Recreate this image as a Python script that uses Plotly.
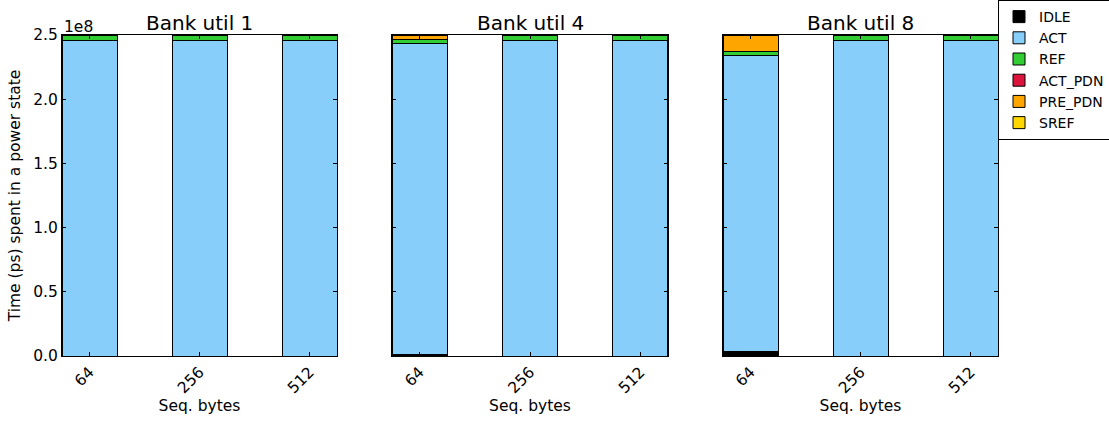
import plotly.graph_objects as go
from plotly.subplots import make_subplots

# Sequential access size categories
seq_bytes = ["64", "256", "512"]
panel_titles = ["Bank util 1", "Bank util 4", "Bank util 8"]

# Power-state residency (ps), one list per state, one row per bank utilisation
states = ["IDLE", "ACT", "REF", "ACT_PDN", "PRE_PDN", "SREF"]
idle = [[0.0, 0.0, 0.0], [1.0e6, 0.0, 0.0], [3.5e6, 0.0, 0.0]]
act = [[246.1e6, 246.1e6, 246.1e6], [242.1e6, 246.1e6, 246.1e6], [230.6e6, 246.1e6, 246.1e6]]
ref = [[3.9e6, 3.9e6, 3.9e6], [3.6e6, 3.9e6, 3.9e6], [3.4e6, 3.9e6, 3.9e6]]
act_pdn = [[0.0, 0.0, 0.0], [0.0, 0.0, 0.0], [0.0, 0.0, 0.0]]
pre_pdn = [[0.0, 0.0, 0.0], [3.3e6, 0.0, 0.0], [12.5e6, 0.0, 0.0]]
sref = [[0.0, 0.0, 0.0], [0.0, 0.0, 0.0], [0.0, 0.0, 0.0]]

y_tickvals = [0, 0.5e8, 1.0e8, 1.5e8, 2.0e8, 2.5e8]
y_ticktext = ["0.0", "0.5", "1.0", "1.5", "2.0", "2.5"]

series = [idle, act, ref, act_pdn, pre_pdn, sref]
colors = ["#000000", "#87CEFA", "#32CD32", "#DC143C", "#FFA500", "#FFD700"]

FONT = "DejaVu Sans"
TICK_SIZE = 15.5
LABEL_SIZE = 15.5
TITLE_SIZE = 20

fig = make_subplots(rows=1, cols=3, shared_yaxes=True, horizontal_spacing=0.0588)

for p in range(3):
    for s, name in enumerate(states):
        fig.add_trace(
            go.Bar(
                x=seq_bytes,
                y=series[s][p],
                name=name,
                legendgroup=name,
                showlegend=(p == 0),
                marker=dict(color=colors[s], line=dict(color="black", width=1)),
            ),
            row=1, col=p + 1,
        )

domains = [[0.0, 0.2938], [0.3526, 0.6474], [0.7062, 1.0]]
for p in range(3):
    xa = "xaxis" if p == 0 else f"xaxis{p + 1}"
    ya = "yaxis" if p == 0 else f"yaxis{p + 1}"
    fig.layout[xa].update(
        domain=domains[p],
        type="category",
        range=[-0.25, 2.25],
        showline=True, linecolor="black", linewidth=1, mirror="ticks",
        ticks="inside", ticklen=4, tickcolor="black",
        tickangle=-45,
        tickfont=dict(family=FONT, size=TICK_SIZE, color="black"),
        title=dict(text="Seq. bytes", font=dict(family=FONT, size=LABEL_SIZE, color="black"), standoff=4),
        showgrid=False, zeroline=False,
    )
    fig.layout[ya].update(
        range=[0, 2.5e8],
        tickvals=y_tickvals,
        ticktext=y_ticktext,
        showticklabels=(p == 0),
        showline=True, linecolor="black", linewidth=1, mirror="ticks",
        ticks="inside", ticklen=4, tickcolor="black",
        tickfont=dict(family=FONT, size=TICK_SIZE, color="black"),
        showgrid=False, zeroline=False,
    )
    x0, x1 = domains[p]
    fig.add_annotation(
        x=(x0 + x1) / 2, y=1.0, xref="paper", yref="paper",
        xanchor="center", yanchor="bottom", yshift=-2,
        text=panel_titles[p], showarrow=False,
        font=dict(family=FONT, size=TITLE_SIZE, color="black"),
    )

fig.layout.yaxis.title = dict(
    text="Time (ps) spent in a power state",
    font=dict(family=FONT, size=LABEL_SIZE, color="black"),
    standoff=8,
)

fig.add_annotation(
    x=0.0, y=1.0, xref="paper", yref="paper",
    xanchor="left", yanchor="bottom", yshift=-3,
    text="1e8", showarrow=False,
    font=dict(family=FONT, size=TICK_SIZE, color="black"),
)

fig.update_layout(
    barmode="stack",
    bargap=0.5,
    width=1109, height=423,
    margin=dict(l=62, r=111, t=35, b=67, autoexpand=False),
    plot_bgcolor="white",
    paper_bgcolor="white",
    font=dict(family=FONT, color="black"),
    legend=dict(
        x=1.0, y=1.109, xanchor="left", yanchor="top",
        traceorder="normal",
        bordercolor="black", borderwidth=1, bgcolor="white",
        font=dict(family=FONT, size=14, color="black"),
        tracegroupgap=0,
        itemwidth=30,
    ),
)

fig.write_html("out.html")
